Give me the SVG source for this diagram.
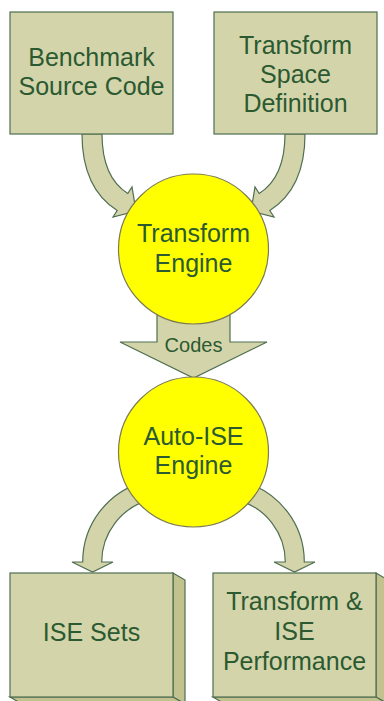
<svg xmlns="http://www.w3.org/2000/svg" width="384" height="701" viewBox="0 0 384 701">
  <style>
    .box { fill: #d4d4ab; stroke: #4f6e50; stroke-width: 1.2; }
    .side { fill: #c2c28e; stroke: #4f6e50; stroke-width: 1.2; }
    .arrow { fill: #d4d4ab; stroke: #4f6e50; stroke-width: 1.2; stroke-linejoin: miter; }
    .engine { fill: #ffff00; stroke: #7c7c50; stroke-width: 1.2; }
    text { font-family: "Liberation Sans", Arial, sans-serif; fill: #2b5a31; text-anchor: middle; }
    .big { font-size: 25px; }
    .small { font-size: 20px; }
  </style>

  <!-- connectors: fat block arrows, drawn beneath the nodes -->
  <g id="connectors">
    <!-- source code -> transform engine -->
    <path class="arrow" d="M82,134 Q82,188.2 117.2,210.5 L113,217 L136,211 L132,187 L127.8,193.5 Q102,177.2 102,134 Z"/>
    <!-- transform space -> transform engine -->
    <path class="arrow" d="M305,134 Q305,188.2 269.8,210.5 L274,217 L251,211 L255,187 L259.2,193.5 Q285,177.2 285,134 Z"/>
    <!-- transform engine -> auto-ISE engine -->
    <path class="arrow" d="M157,300 L157,342 L120,342 L193.5,378 L267,342 L230,342 L230,300 Z"/>
    <!-- auto-ISE engine -> ISE sets -->
    <path class="arrow" d="M82.7,562 L72,562 L92.5,572 L113,562 L101.7,562 A64,64 0 0 1 149.2,500.2 L144.2,481.8 A83,83 0 0 0 82.7,562 Z"/>
    <!-- auto-ISE engine -> performance -->
    <path class="arrow" d="M304.3,562 L315,562 L294.5,572 L274,562 L285.3,562 A64,64 0 0 0 237.8,500.2 L242.8,481.8 A83,83 0 0 1 304.3,562 Z"/>
    <text class="small" x="193.5" y="352">Codes</text>
  </g>

  <g id="benchmark-source">
    <rect class="box" x="10" y="12" width="163" height="122"/>
    <text class="big" x="91.5" y="66">Benchmark</text>
    <text class="big" x="91.5" y="95">Source Code</text>
  </g>

  <g id="transform-space">
    <rect class="box" x="214" y="12" width="163" height="122"/>
    <text class="big" x="295.5" y="54">Transform</text>
    <text class="big" x="295.5" y="83">Space</text>
    <text class="big" x="295.5" y="112">Definition</text>
  </g>

  <g id="transform-engine">
    <circle class="engine" cx="193.5" cy="249" r="75"/>
    <text class="big" x="193.5" y="242">Transform</text>
    <text class="big" x="193.5" y="272">Engine</text>
  </g>

  <g id="auto-ise-engine">
    <circle class="engine" cx="193.5" cy="452" r="75"/>
    <text class="big" x="193.5" y="445">Auto-ISE</text>
    <text class="big" x="193.5" y="474">Engine</text>
  </g>

  <g id="ise-sets">
    <polygon class="side" points="173,573 185,580 185,704 173,697"/>
    <polygon class="side" points="10,697 173,697 185,704 22,704"/>
    <rect class="box" x="10" y="573" width="163" height="124"/>
    <text class="big" x="91.5" y="641">ISE Sets</text>
  </g>

  <g id="transform-ise-performance">
    <polygon class="side" points="376,573 388,580 388,704 376,697"/>
    <polygon class="side" points="213,697 376,697 388,704 225,704"/>
    <rect class="box" x="213" y="573" width="163" height="124"/>
    <text class="big" x="294.5" y="610">Transform &amp;</text>
    <text class="big" x="294.5" y="640">ISE</text>
    <text class="big" x="294.5" y="670">Performance</text>
  </g>
</svg>
